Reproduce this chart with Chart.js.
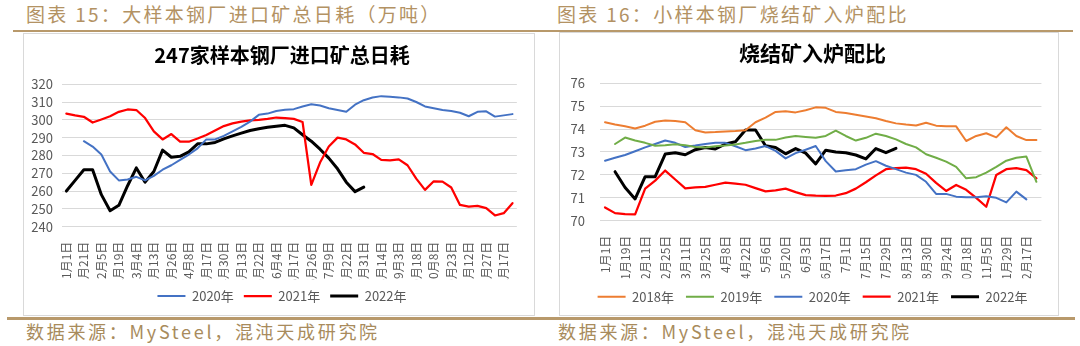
<!DOCTYPE html>
<html>
<head>
<meta charset="utf-8">
<script src="https://cdn.jsdelivr.net/npm/chart.js@4.4.0/dist/chart.umd.min.js"></script>
<style>
  body { margin: 0; background: #fff; width: 1080px; height: 346px; position: relative; overflow: hidden;
         font-family: "Noto Sans CJK SC", sans-serif; }
  .cap { position: absolute; top: 2px; font-size: 19px; line-height: 24px; letter-spacing: 2.3px; color: #b39263; white-space: nowrap; }
  .src { position: absolute; top: 320px; font-size: 18px; line-height: 22px; letter-spacing: 2.7px; color: #a88b5c; white-space: nowrap; }
  .rule { position: absolute; background: #b8996b; }
  .box { position: absolute; border: 1px solid #d9d9d9; box-sizing: border-box; }
  canvas { display: block; }
</style>
</head>
<body>
<div class="cap" style="left:26px">图表 15：大样本钢厂进口矿总日耗（万吨）</div>
<div class="cap" style="left:557px">图表 16：小样本钢厂烧结矿入炉配比</div>
<div class="rule" style="left:13px;top:30px;width:1060px;height:2px"></div>

<div class="box" style="left:23px;top:33px;width:512px;height:283px"><canvas id="c1" width="510" height="281"></canvas></div>
<div class="box" style="left:559px;top:32px;width:500px;height:284px"><canvas id="c2" width="498" height="282"></canvas></div>

<div class="rule" style="left:7px;top:317px;width:1068px;height:3px"></div>
<div class="src" style="left:26px">数据来源：MySteel，混沌天成研究院</div>
<div class="src" style="left:558px">数据来源：MySteel，混沌天成研究院</div>

<script>
// ---- 图表15：247家样本钢厂进口矿总日耗 ----
const ticks1 = ['1月1日','1月21日','2月5日','2月19日','3月4日','3月13日','3月26日','4月8日','4月17日',
  '4月30日','5月13日','5月22日','6月4日','6月17日','6月26日','7月9日','7月22日','7月31日','8月14日',
  '9月3日','9月18日','10月8日','10月23日','11月12日','11月27日','12月17日'];

const ore2020 = [null, null, 288, 285, 280.5, 271, 266, 266.5, 268, 266, 268.5, 272, 274.5, 277.5, 280.5,
  284, 289, 289, 291, 293.5, 296, 299, 302.8, 303.5, 305, 305.6, 306, 307.5, 308.7, 308, 306.5, 305.5,
  304.5, 308.5, 311, 312.5, 313.3, 313, 312.6, 312, 310, 307.5, 306.5, 305.5, 305, 304, 302, 304.5,
  304.8, 301.8, 302.5, 303.2];
const ore2021 = [303.5, 302.5, 301.7, 298.5, 300.2, 302, 304.5, 305.8, 305.5, 301, 293.5, 289, 292, 287.8,
  287.7, 289.5, 291.5, 294, 296.5, 298, 299, 299.7, 300, 300.5, 301.3, 301, 300.5, 298.8, 263.5, 276,
  285, 290, 289, 286.2, 281.5, 280.8, 277.5, 277.2, 277.8, 274.5, 267, 260.7, 265.5, 265.3, 262, 252.2,
  251.3, 251.7, 250.4, 246.3, 247.6, 253.2];
const ore2022 = [260, 266, 272, 272, 258, 249, 252, 263, 273, 265, 271, 283, 279, 279.5, 282, 286.5, 286.5,
  287.3, 289.3, 291, 292.5, 294, 295, 295.8, 296.4, 296.9, 295.5, 291.6, 288, 283.5, 278.5, 272.5, 265,
  259.7, 262.2];

// ---- 图表16：烧结矿入炉配比 ----
const ticks2 = ['1月1日','1月19日','2月11日','2月25日','3月11日','3月25日','4月8日','4月22日','5月6日',
  '5月20日','6月3日','6月17日','7月1日','7月15日','7月29日','8月13日','8月30日','9月24日','10月18日',
  '11月5日','11月29日','12月17日'];

const sin2018 = [74.3, 74.2, 74.12, 74.03, 74.15, 74.32, 74.38, 74.35, 74.3, 73.95, 73.85, 73.87, 73.9,
  73.92, 73.95, 74.3, 74.5, 74.75, 74.78, 74.73, 74.82, 74.95, 74.93, 74.75, 74.7, 74.63, 74.55, 74.47,
  74.35, 74.25, 74.2, 74.16, 74.28, 74.15, 74.12, 74.12, 73.48, 73.7, 73.82, 73.64, 74.08, 73.7, 73.52, 73.52];
const sin2019 = [null, 73.35, 73.63, 73.5, 73.4, 73.27, 73.3, 73.34, 73.3, 73.22, 73.2, 73.25, 73.28, 73.33,
  73.4, 73.48, 73.53, 73.53, 73.63, 73.7, 73.66, 73.62, 73.7, 73.93, 73.7, 73.5, 73.62, 73.8, 73.7, 73.55,
  73.35, 73.2, 72.9, 72.75, 72.58, 72.35, 71.85, 71.9, 72.1, 72.35, 72.62, 72.75, 72.8, 71.7];
const sin2020 = [72.62, 72.75, 72.87, 73.03, 73.2, 73.35, 73.5, 73.4, 73.22, 73.28, 73.35, 73.4, 73.4, 73.25,
  73.08, 73.15, 73.26, 73.05, 72.72, 72.95, 73.1, 73.26, 72.6, 72.15, 72.2, 72.25, 72.45, 72.6, 72.4, 72.25,
  72.1, 72.0, 71.7, 71.17, 71.17, 71.05, 71.02, 71.02, 71.07, 71.0, 70.8, 71.27, 70.93];
const sin2021 = [70.58, 70.33, 70.29, 70.28, 71.4, 71.75, 72.19, 71.8, 71.41, 71.45, 71.48, 71.57, 71.66,
  71.62, 71.57, 71.42, 71.28, 71.32, 71.4, 71.25, 71.12, 71.09, 71.08, 71.1, 71.2, 71.4, 71.68, 71.98, 72.25,
  72.3, 72.32, 72.25, 72.05, 71.65, 71.3, 71.56, 71.35, 71.0, 70.61, 72.0, 72.25, 72.3, 72.21, 71.85];
const sin2022 = [null, 72.14, 71.45, 70.95, 71.92, 71.92, 72.91, 72.97, 72.88, 73.1, 73.2, 73.13, 73.35,
  73.45, 73.96, 73.96, 73.27, 73.2, 72.92, 73.15, 72.95, 72.48, 73.08, 73.0, 72.97, 72.87, 72.7, 73.15,
  72.97, 73.16];

const FONT = '"Noto Sans CJK SC", sans-serif';
Chart.defaults.font.family = FONT;
Chart.defaults.color = '#595959';

// every other category carries a date label (Excel interval = 2)
function makeCats(tickLabels, n) {
  const out = [];
  for (let i = 0; i < n; i++) out.push(i % 2 === 0 ? (tickLabels[i / 2] || '') : '');
  return out;
}

// nudge title and legend sideways so they sit where Excel put them
const shiftBoxes = {
  id: 'shiftBoxes',
  afterLayout(chart, args, opts) {
    [chart.legend, chart.titleBlock].forEach(b => {
      if (b && opts.dx) { b.left += opts.dx; b.right += opts.dx; }
    });
  }
};

function series(label, data, color, width) {
  return {
    label: label, data: data,
    borderColor: color, backgroundColor: color,
    borderWidth: width, pointRadius: 0, tension: 0,
    borderJoinStyle: 'round', borderCapStyle: 'round', spanGaps: false
  };
}

function makeChart(id, cfg) {
  return new Chart(document.getElementById(id), {
    type: 'line',
    data: { labels: cfg.labels, datasets: cfg.datasets },
    plugins: [shiftBoxes],
    options: {
      responsive: false,
      animation: false,
      devicePixelRatio: 1,
      layout: { padding: cfg.padding },
      plugins: {
        title: {
          display: true, text: cfg.title, color: '#000',
          font: { family: FONT, size: cfg.titleSize, weight: 'bold' },
          padding: cfg.titlePad
        },
        legend: {
          position: 'bottom',
          labels: {
            usePointStyle: true, pointStyle: 'line', pointStyleWidth: 28,
            padding: cfg.legendPad, color: '#595959', font: { size: 13 }
          }
        },
        tooltip: { enabled: false },
        shiftBoxes: { dx: cfg.dx }
      },
      scales: {
        x: {
          offset: true,
          grid: { display: false },
          border: { display: false },
          ticks: { autoSkip: false, minRotation: 90, maxRotation: 90, padding: 7, font: { size: 12 } },
          afterFit: s => { s.height = cfg.xHeight; }
        },
        y: {
          min: cfg.yMin, max: cfg.yMax,
          grid: { color: '#d9d9d9', drawTicks: false },
          border: { display: false },
          ticks: { stepSize: cfg.yStep, autoSkip: false, padding: cfg.yPad, font: { size: 13 } },
          afterFit: s => { s.width = cfg.yWidth; }
        }
      }
    }
  });
}

makeChart('c1', {
  labels: makeCats(ticks1, ore2021.length),
  datasets: [
    series('2020年', ore2020, '#4472c4', 2),
    series('2021年', ore2021, '#ff0000', 2.25),
    series('2022年', ore2022, '#000000', 3)
  ],
  title: '247家样本钢厂进口矿总日耗',
  titleSize: 20,
  titlePad: { top: 9.5, bottom: 16.7 },
  padding: { left: 0, right: 13, top: 0, bottom: 2.5 },
  legendPad: 10, dx: 9.5,
  xHeight: 52.8,
  yMin: 240, yMax: 320, yStep: 10, yPad: 9, yWidth: 38
});

makeChart('c2', {
  labels: makeCats(ticks2, sin2018.length),
  datasets: [
    series('2018年', sin2018, '#ed7d31', 2),
    series('2019年', sin2019, '#70ad47', 2),
    series('2020年', sin2020, '#4472c4', 2),
    series('2021年', sin2021, '#ff0000', 2.25),
    series('2022年', sin2022, '#000000', 3)
  ],
  title: '烧结矿入炉配比',
  titleSize: 21,
  titlePad: { top: 7.5, bottom: 17.6 },
  padding: { left: 0, right: 16, top: 0, bottom: 1.8 },
  legendPad: 12, dx: 11.5,
  xHeight: 57.5,
  yMin: 70, yMax: 76, yStep: 1, yPad: 15, yWidth: 40
});
</script>
</body>
</html>
